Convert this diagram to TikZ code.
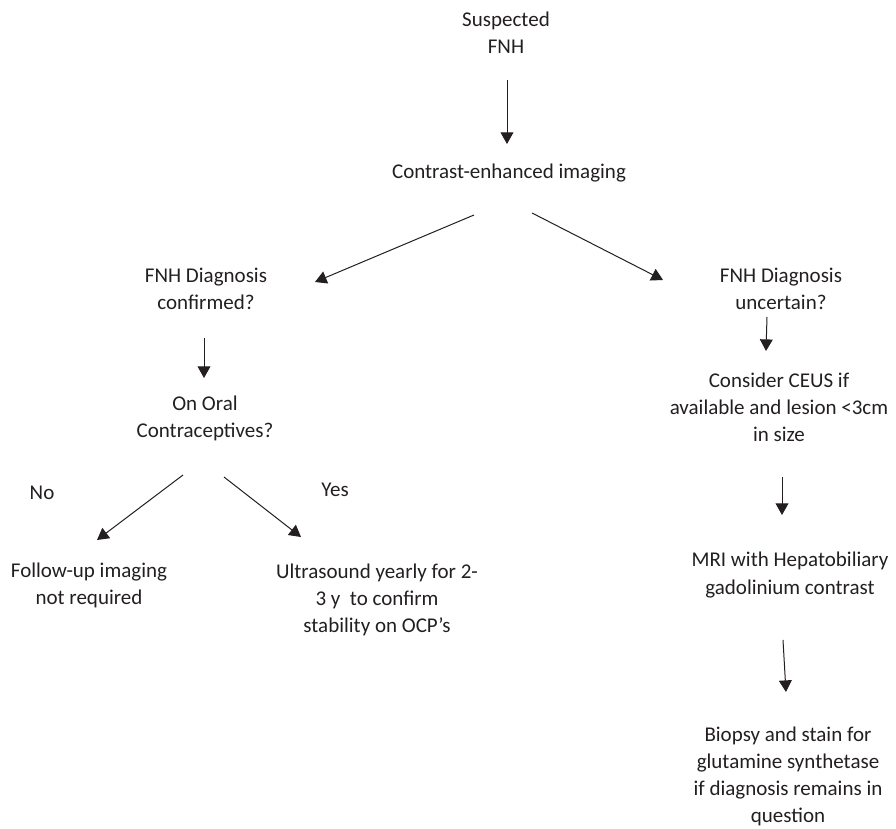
\documentclass[tikz,border=0pt]{standalone}
\usepackage{fontspec}
\setmainfont{Carlito}
\usetikzlibrary{arrows.meta, positioning, calc}
\definecolor{cink}{HTML}{231F20}
\tikzset{
  every picture/.style={line width=0.5pt},
  txt/.style={text=cink, align=center, inner sep=0pt, font=\fontsize{10.5}{13.6}\selectfont},
  arr/.style={-{Triangle[length=5.8pt, width=6.4pt]}, draw=cink},
}

\begin{document}
\begin{tikzpicture}[x=0.5pt, y=-0.5pt]
  \useasboundingbox (0,0) rectangle (896,829);
  % main column
  \node[txt] (susp) at (506,32.5) {Suspected\\FNH};
  \node[txt] (cei) at (509,173) {Contrast-enhanced imaging};
  % left branch
  \node[txt] (conf) at (206,289) {FNH Diagnosis\\confirmed?};
  \node[txt] (ocp) at (205,418.5) {On Oral\\Contraceptives?};
  \node[txt] (no) at (42,493) {No};
  \node[txt] (yes) at (335,490) {Yes};
  \node[txt] (fup) at (89,585.5) {Follow-up imaging\\not required};
  \node[txt] (us) at (377,600) {Ultrasound yearly for 2-\\3 y\ \ to confirm\hspace*{1.75em}\\stability on OCP’s};
  % right branch
  \node[txt] (unc) at (781,289) {FNH Diagnosis\\uncertain?};
  \node[txt] (ceus) at (779,407) {Consider CEUS if\\available and lesion <3cm\\in size};
  \node[txt] (mri) at (790,575) {MRI with Hepatobiliary\\gadolinium contrast};
  \node[txt] (biop) at (788,776.5) {Biopsy and stain for\\glutamine synthetase\\if diagnosis remains in\\question};

  \draw[arr] ($(susp)+(1,47.5)$) -- ($(cei)+(-2,-29)$);
  \draw[arr] ($(cei)+(-35,42)$) -- ($(conf)+(109,-7)$);
  \draw[arr] ($(cei)+(23,40)$) -- ($(unc)+(-118,-9)$);
  \draw[arr] ($(conf)+(-2,49)$) -- ($(ocp)+(-1,-40.5)$);
  \draw[arr] ($(ocp)+(-22,56.5)$) -- ($(fup)+(8,-45.5)$);
  \draw[arr] ($(ocp)+(19,58.5)$) -- ($(us)+(-76,-63)$);
  \draw[arr] ($(unc)+(-14,28)$) -- ($(ceus)+(-13,-56)$);
  \draw[arr] ($(ceus)+(3,70)$) -- ($(mri)+(-8,-60)$);
  \draw[arr] ($(mri)+(-7,65)$) -- ($(biop)+(-2,-84.5)$);
\end{tikzpicture}
\end{document}
